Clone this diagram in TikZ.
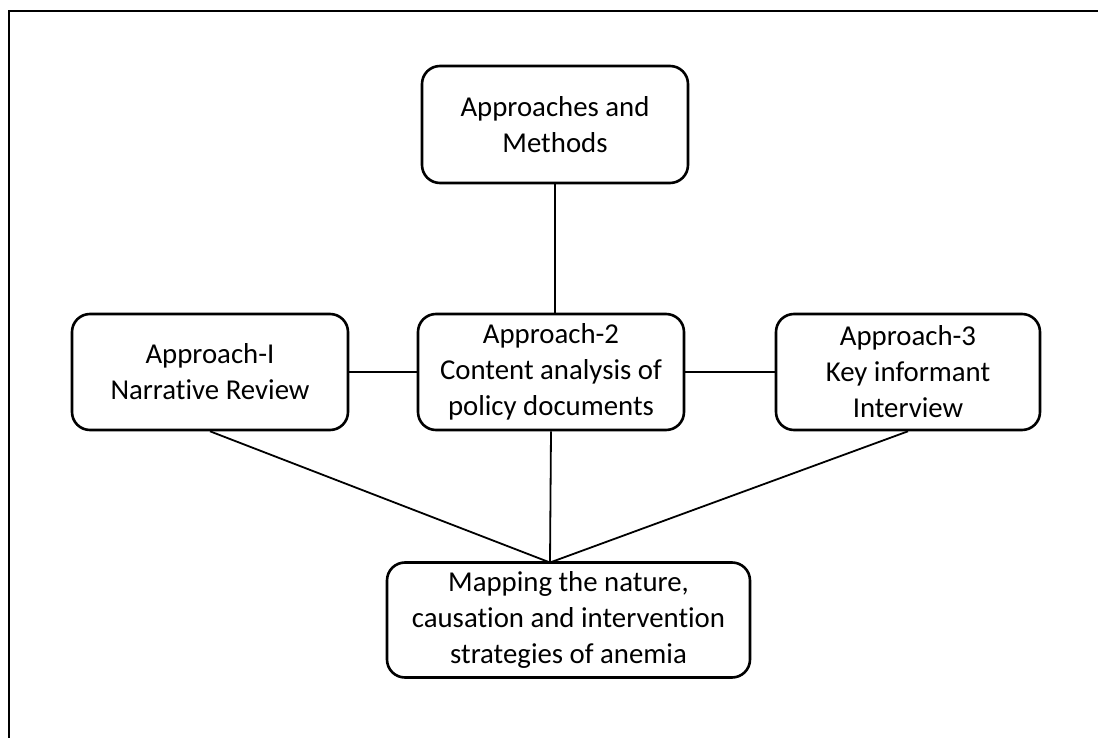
\documentclass[tikz,border=0pt]{standalone}
\usepackage{fontspec}
\setmainfont{Carlito}[Ligatures=NoCommon]
\begin{document}
\begin{tikzpicture}[x=1pt,y=-1pt,
  stage/.style={draw, line width=2.6pt, rounded corners=18pt, align=center,
    inner sep=0pt, font=\fontsize{28.8}{36}\selectfont},
  link/.style={line width=1.8pt}]
\useasboundingbox (0,0) rectangle (1098,738);
% outer frame (top and left edges)
\draw[line width=2pt] (9,738) -- (9,11) -- (1098,11);

\node[stage, minimum width=266pt, minimum height=117pt] (top) at (555,124.5) {Approaches and\\Methods};
\node[stage, minimum width=276pt, minimum height=116pt] (left) at (210,372) {Approach-I\\Narrative Review};
\node[stage, minimum width=266pt, minimum height=116pt] (mid) at (551,372) {Approach-2\\Content analysis of\\policy documents};
\node[stage, minimum width=264pt, minimum height=116pt] (right) at (908,372) {Approach-3\\Key informant\\Interview};
\node[stage, minimum width=363pt, minimum height=115pt] (bot) at (568.5,620) {Mapping the nature,\\causation and intervention\\strategies of anemia};

\coordinate (meet) at (550,562.5);

\draw[link] (top.south) -- (top.south |- mid.north);
\draw[link] (left.east) -- (mid.west);
\draw[link] (mid.east) -- (right.west);
\draw[link] (left.south) -- (meet);
\draw[link] (mid.south) -- (meet);
\draw[link] (right.south) -- (meet);
\end{tikzpicture}
\end{document}
